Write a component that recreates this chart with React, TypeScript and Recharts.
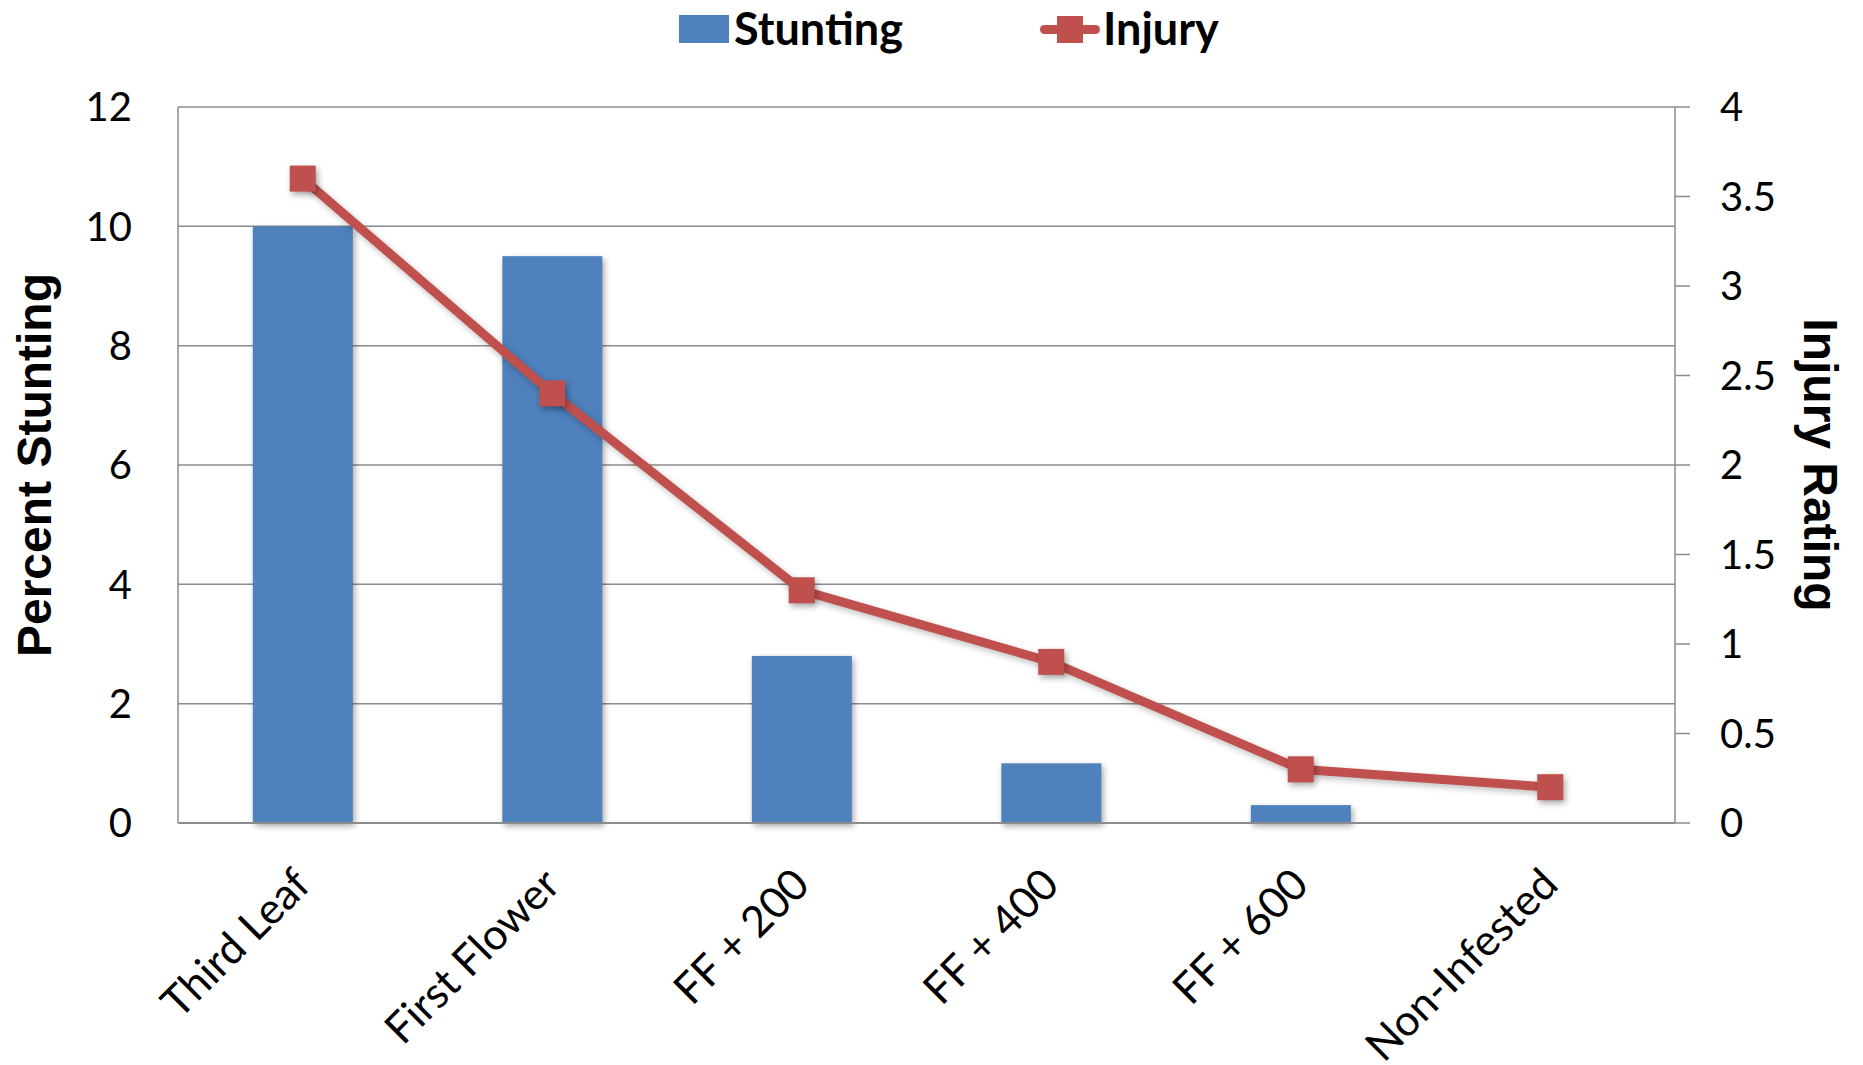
import React from 'react';
import { ComposedChart, Bar, Line, XAxis, YAxis, CartesianGrid, Label } from 'recharts';

const categories = ['Third Leaf', 'First Flower', 'FF + 200', 'FF + 400', 'FF + 600', 'Non-Infested'];
const stunting = [10, 9.5, 2.8, 1.0, 0.3, 0];
const injury = [3.6, 2.4, 1.3, 0.9, 0.3, 0.2];
const leftTicks = [0, 2, 4, 6, 8, 10, 12];
const rightTicks = [0, 0.5, 1, 1.5, 2, 2.5, 3, 3.5, 4];

const data = categories.map((name, i) => ({ name, stunting: stunting[i], injury: injury[i] }));

const BLUE = '#4F81BD';
const RED = '#C0504D';
const GRID = '#8C8C8C';
const tickFont = { fontFamily: 'Lato', fontSize: 40, fill: '#000' };
const titleFont = { fontFamily: '"Liberation Sans", Arial', fontSize: 48, fontWeight: 700, fill: '#000' };

// rotated category labels, anchored so the end of the text sits just right of the tick
const CatTick = (props: any) => {
    const { x, y, payload } = props;
    const ax = x + 10;
    const ay = y + 64;
    return (
        <text x={ax} y={ay} transform={`rotate(-45 ${ax} ${ay})`} textAnchor="end" fontFamily="Lato" fontSize={43} fill="#000">
            {payload.value}
        </text>
    );
};

const SquareDot = (props: any) => {
    const { cx, cy, index } = props;
    if (cx == null || cy == null) return null;
    return (
        <rect key={`dot-${index}`} x={cx - 13} y={cy - 13} width={26} height={26} fill={RED}
            style={{ filter: 'drop-shadow(2px 3px 3px rgba(0,0,0,0.35))' }} />
    );
};

const ShadowBar = (props: any) => {
    const { x, y, width, height } = props;
    if (!height || height <= 0) return null;
    return (
        <rect x={x} y={y} width={width} height={height} fill={BLUE}
            style={{ filter: 'drop-shadow(2px 3px 3px rgba(0,0,0,0.35))' }} />
    );
};

const Legend = () => (
    <div style={{ position: 'absolute', top: 0, left: 0, width: 1863, height: 60, fontFamily: 'Lato', fontWeight: 700, fontSize: 45 }}>
        <div style={{ position: 'absolute', left: 679, top: 15, width: 50, height: 28, background: BLUE }} />
        <div style={{ position: 'absolute', left: 734, top: 2, lineHeight: '52px' }}>Stunting</div>
        <div style={{ position: 'absolute', left: 1040, top: 25, width: 60, height: 9, borderRadius: 4.5, background: RED }} />
        <div style={{ position: 'absolute', left: 1057, top: 16, width: 26, height: 27, background: RED }} />
        <div style={{ position: 'absolute', left: 1103, top: 2, lineHeight: '52px' }}>Injury</div>
    </div>
);

export default function App() {
    return (
        <div style={{ position: 'fixed', top: 0, left: 0, width: 1863, height: 1065, background: '#fff' }}>
            <Legend />
            <ComposedChart width={1863} height={1065} data={data} margin={{ top: 107, right: 0, bottom: 0, left: 0 }} barCategoryGap="30%">
                <CartesianGrid yAxisId="left" vertical={false} stroke={GRID} strokeWidth={1.5} />
                <XAxis dataKey="name" height={242} tickLine={false} tickSize={0} tickMargin={0} interval={0}
                    axisLine={{ stroke: GRID, strokeWidth: 2 }} tick={<CatTick />} />
                <YAxis yAxisId="left" width={178} domain={[0, 12]} ticks={leftTicks} tickLine={false} tickSize={0} tickMargin={46}
                    axisLine={{ stroke: GRID, strokeWidth: 1.5 }} tick={tickFont}>
                    <Label content={(p: any) => {
                        const vb = p.viewBox;
                        const cx = 34;
                        const cy = vb.y + vb.height / 2;
                        return <text x={cx} y={cy} transform={`rotate(-90 ${cx} ${cy})`} textAnchor="middle" dominantBaseline="central" {...titleFont}>Percent Stunting</text>;
                    }} />
                </YAxis>
                <YAxis yAxisId="right" orientation="right" width={188} domain={[0, 4]} ticks={rightTicks} tickSize={15} tickMargin={30}
                    tickLine={{ stroke: GRID, strokeWidth: 1.5 }} axisLine={{ stroke: GRID, strokeWidth: 1.5 }} tick={{ ...tickFont, textAnchor: 'start' }}>
                    <Label content={(p: any) => {
                        const vb = p.viewBox;
                        const cx = 1820;
                        const cy = vb.y + vb.height / 2;
                        return <text x={cx} y={cy} transform={`rotate(90 ${cx} ${cy})`} textAnchor="middle" dominantBaseline="central" {...titleFont}>Injury Rating</text>;
                    }} />
                </YAxis>
                <Bar yAxisId="left" dataKey="stunting" fill={BLUE} shape={<ShadowBar />} isAnimationActive={false} />
                <Line yAxisId="right" dataKey="injury" stroke={RED} strokeWidth={9} dot={<SquareDot />} activeDot={false}
                    isAnimationActive={false} style={{ filter: 'drop-shadow(2px 3px 3px rgba(0,0,0,0.25))' }} />
            </ComposedChart>
        </div>
    );
}
